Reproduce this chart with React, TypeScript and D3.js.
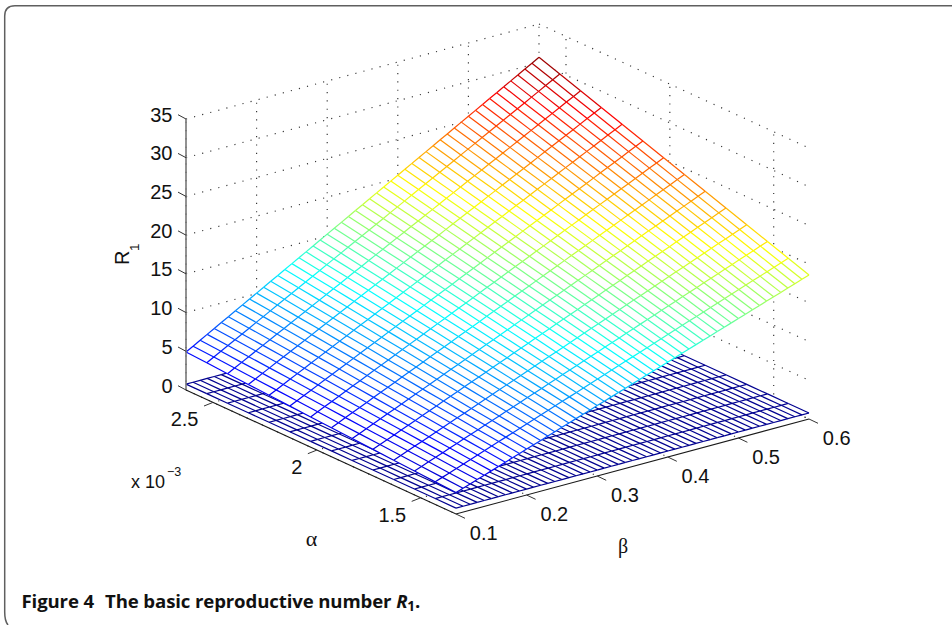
import React from "react";
import * as d3 from "d3";

// Mesh grid of the surfaces (x 10^-3 for alpha)
const alphaGrid = [1.33, 1.43, 1.53, 1.63, 1.73, 1.83, 1.93, 2.03, 2.13, 2.23, 2.33, 2.43, 2.53, 2.63];
const betaGrid = [
  0.1, 0.11, 0.12, 0.13, 0.14, 0.15, 0.16, 0.17, 0.18, 0.19,
  0.2, 0.21, 0.22, 0.23, 0.24, 0.25, 0.26, 0.27, 0.28, 0.29,
  0.3, 0.31, 0.32, 0.33, 0.34, 0.35, 0.36, 0.37, 0.38, 0.39,
  0.4, 0.41, 0.42, 0.43, 0.44, 0.45, 0.46, 0.47, 0.48, 0.49,
  0.5, 0.51, 0.52, 0.53, 0.54, 0.55, 0.56, 0.57, 0.58, 0.59, 0.6,
];

// Each constant-alpha mesh line is straight in the picture: read by its two end heights.
const upperAtBetaMin = [2.76, 2.92, 3.09, 3.25, 3.42, 3.58, 3.75, 3.91, 4.08, 4.24, 4.41, 4.57, 4.74, 4.9];
const upperAtBetaMax = [18.6, 19.53, 20.46, 21.39, 22.32, 23.25, 24.18, 25.12, 26.05, 26.98, 27.91, 28.84, 29.77, 30.7];
const lowerAtBetaMin = [0.76, 0.76, 0.76, 0.76, 0.76, 0.76, 0.76, 0.76, 0.76, 0.76, 0.76, 0.76, 0.76, 0.76];
const lowerAtBetaMax = [0.78, 0.78, 0.78, 0.78, 0.78, 0.78, 0.78, 0.78, 0.78, 0.78, 0.78, 0.78, 0.78, 0.78];

const zTicks = [0, 5, 10, 15, 20, 25, 30, 35];
const alphaTicks = [1.5, 2, 2.5];
const alphaTickLabels = ["1.5", "2", "2.5"];
const betaTicks = [0.1, 0.2, 0.3, 0.4, 0.5, 0.6];
const betaTickLabels = ["0.1", "0.2", "0.3", "0.4", "0.5", "0.6"];

const jetStops = [0, 0.125, 0.375, 0.625, 0.875, 1];
const jetColors = ["#00008f", "#0000ff", "#00ffff", "#ffff00", "#ff0000", "#800000"];

// 3-D to screen: every data axis maps to a linear screen displacement
const frontX = 456;
const frontY = 514;
const betaDX = d3.scaleLinear().domain([0.1, 0.6]).range([0, 353]);
const betaDY = d3.scaleLinear().domain([0.1, 0.6]).range([0, -95]);
const alphaDX = d3.scaleLinear().domain([1.33, 2.63]).range([0, -270]);
const alphaDY = d3.scaleLinear().domain([1.33, 2.63]).range([0, -124]);
const zDY = d3.scaleLinear().domain([0, 35]).range([0, -271]);
const project = (a: number, b: number, z: number): [number, number] => [
  frontX + betaDX(b) + alphaDX(a),
  frontY + betaDY(b) + alphaDY(a) + zDY(z),
];

const zMin = 0.76;
const zMax = 30.7;
const jet = d3
  .scaleLinear<string>()
  .domain(jetStops.map((t) => zMin + t * (zMax - zMin)))
  .range(jetColors)
  .clamp(true);

const A_MIN = alphaGrid[0];
const A_MAX = alphaGrid[alphaGrid.length - 1];
const B_MIN = betaGrid[0];
const B_MAX = betaGrid[betaGrid.length - 1];
const HELV = "'Liberation Sans', Arial, sans-serif";
const GREEK = "'Liberation Serif', 'DejaVu Serif', serif";

const lineGen = d3.line();

function Surface({ low, high }: { low: number[]; high: number[] }) {
  const heights = alphaGrid.map((_, i) =>
    betaGrid.map((b) => d3.scaleLinear().domain([B_MIN, B_MAX]).range([low[i], high[i]])(b))
  );
  const faces: string[] = [];
  const segs: { d: string; c: string }[] = [];
  alphaGrid.forEach((a, i) => {
    betaGrid.forEach((b, j) => {
      const p = project(a, b, heights[i][j]);
      const c = jet(heights[i][j]);
      if (j + 1 < betaGrid.length) {
        segs.push({ d: lineGen([p, project(a, betaGrid[j + 1], heights[i][j + 1])])!, c });
      }
      if (i + 1 < alphaGrid.length) {
        segs.push({ d: lineGen([p, project(alphaGrid[i + 1], b, heights[i + 1][j])])!, c });
      }
      if (i + 1 < alphaGrid.length && j + 1 < betaGrid.length) {
        faces.push(
          lineGen([
            p,
            project(a, betaGrid[j + 1], heights[i][j + 1]),
            project(alphaGrid[i + 1], betaGrid[j + 1], heights[i + 1][j + 1]),
            project(alphaGrid[i + 1], b, heights[i + 1][j]),
          ])! + "Z"
        );
      }
    });
  });
  return (
    <g>
      <path d={faces.join("")} fill="#fff" stroke="#fff" strokeWidth={0.5} />
      {segs.map((s, k) => (
        <path key={k} d={s.d} stroke={s.c} strokeWidth={1.2} fill="none" />
      ))}
    </g>
  );
}

function Grid() {
  const dash = { stroke: "#333", strokeWidth: 1.15, strokeDasharray: "1.15 7.2", fill: "none" };
  const lines: [number, number][][] = [];
  zTicks.forEach((z) => {
    lines.push([project(A_MAX, B_MIN, z), project(A_MAX, B_MAX, z)]);
    lines.push([project(A_MAX, B_MAX, z), project(A_MIN, B_MAX, z)]);
  });
  betaTicks.forEach((b) => {
    lines.push([project(A_MAX, b, 0), project(A_MAX, b, 35)]);
    lines.push([project(A_MAX, b, 0), project(A_MIN, b, 0)]);
  });
  alphaTicks.forEach((a) => {
    lines.push([project(a, B_MAX, 0), project(a, B_MAX, 35)]);
    lines.push([project(a, B_MAX, 0), project(a, B_MIN, 0)]);
  });
  return (
    <g>
      {lines.map((l, i) => (
        <path key={i} d={lineGen(l)!} {...dash} />
      ))}
    </g>
  );
}

function Axes() {
  const labelStyle = { fontFamily: HELV, fontSize: 20, fill: "#111" };
  const floorL = project(A_MAX, B_MIN, 0);
  const floorF = project(A_MIN, B_MIN, 0);
  const floorR = project(A_MIN, B_MAX, 0);
  const topL = project(A_MAX, B_MIN, 35);
  return (
    <g>
      <path d={lineGen([floorL, floorF, floorR])!} stroke="#1a1a1a" strokeWidth={1.1} fill="none" />
      <path d={lineGen([floorL, topL])!} stroke="#777" strokeWidth={1.6} fill="none" />
      {zTicks.map((z) => {
        const [x, y] = project(A_MAX, B_MIN, z);
        return (
          <g key={z}>
            <line x1={x} y1={y} x2={x - 8} y2={y - 4.3} stroke="#333" strokeWidth={1} />
            <text x={172.5} y={y - 4.5} textAnchor="end" dominantBaseline="central" {...labelStyle}>
              {z}
            </text>
          </g>
        );
      })}
      {alphaTicks.map((a, i) => {
        const [x, y] = project(a, B_MIN, 0);
        return (
          <g key={a}>
            <line x1={x} y1={y} x2={x - 9} y2={y + 3.6} stroke="#333" strokeWidth={1} />
            <text x={x - 14.5} y={y + 17} textAnchor="end" dominantBaseline="central" {...labelStyle}>
              {alphaTickLabels[i]}
            </text>
          </g>
        );
      })}
      {betaTicks.map((b, i) => {
        const [x, y] = project(A_MIN, b, 0);
        return (
          <g key={b}>
            <line x1={x} y1={y} x2={x + 9} y2={y + 4.3} stroke="#333" strokeWidth={1} />
            <text x={x + 27.7} y={y + 19} textAnchor="middle" dominantBaseline="central" {...labelStyle}>
              {betaTickLabels[i]}
            </text>
          </g>
        );
      })}
      <text x={131} y={488} fontFamily={HELV} fontSize={18} fill="#111">
        x 10
      </text>
      <text x={167} y={476} fontFamily={HELV} fontSize={12.5} fill="#111">
        −3
      </text>
      <text x={311.5} y={546} textAnchor="middle" fontFamily={GREEK} fontSize={22} fill="#111">
        α
      </text>
      <text x={623} y={553} textAnchor="middle" fontFamily={GREEK} fontSize={20} fill="#111">
        β
      </text>
      <g transform="translate(129.3,265) rotate(-90)">
        <text x={0} y={0} fontFamily={HELV} fontSize={20} fill="#111">
          R
        </text>
        <text x={14} y={9.5} fontFamily={HELV} fontSize={13.5} fill="#111">
          1
        </text>
      </g>
    </g>
  );
}

export default function App() {
  return (
    <svg
      width={952}
      height={625}
      viewBox="0 0 952 625"
      style={{ position: "absolute", left: 0, top: 0, background: "#fff" }}
    >
      <path
        d="M960,5.7 H15 Q4.7,5.7 4.7,16 V612 Q4.7,621 8,625"
        fill="none"
        stroke="#5f5f5f"
        strokeWidth={1.5}
      />
      <Grid />
      <Surface low={lowerAtBetaMin} high={lowerAtBetaMax} />
      <Surface low={upperAtBetaMin} high={upperAtBetaMax} />
      <Axes />
      <text
        x={21.5}
        y={608}
        fontFamily="'Open Sans', sans-serif"
        fontWeight={700}
        fontSize={18.6}
        letterSpacing={-0.12}
        fill="#111"
      >
        Figure 4
        <tspan dx={11}>The basic reproductive number </tspan>
        <tspan fontStyle="italic">R</tspan>
        <tspan fontSize={13.5} dy={3}>1</tspan>
        <tspan dy={-3}>.</tspan>
      </text>
    </svg>
  );
}
